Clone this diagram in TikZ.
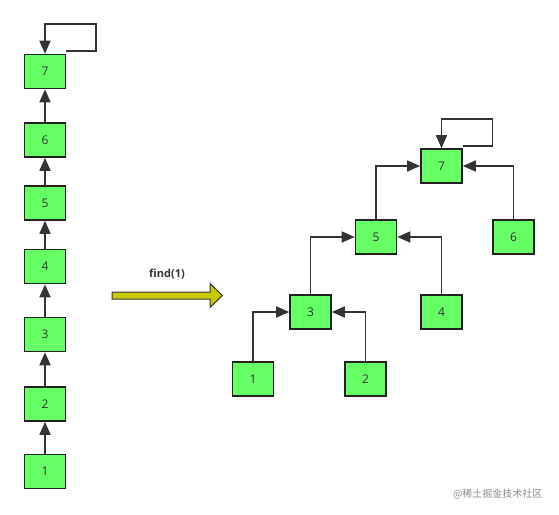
\documentclass[tikz,border=0pt]{standalone}
\usepackage{fontspec}
\setmainfont{Open Sans}
\newfontfamily\cjk{Noto Sans CJK SC}
\usetikzlibrary{arrows.meta}
\definecolor{boxfill}{HTML}{66FF66}
\definecolor{boxline}{HTML}{222222}
\definecolor{conn}{HTML}{333333}
\definecolor{bigarrow}{HTML}{C8C800}
\begin{document}
\begin{tikzpicture}[x=1pt,y=-1pt,
  ubox/.style={draw=boxline,line width=1.6pt,fill=boxfill,minimum width=41pt,minimum height=34pt,inner sep=0pt,font=\fontsize{12}{14}\selectfont,text=conn},
  link/.style={draw=conn,line width=1.6pt,-{Triangle[length=13pt,width=11pt]}}]
\useasboundingbox (0,0) rectangle (559,514);
% left chain
\node[ubox] (l7) at (45,71.5) {7};
\node[ubox] (l6) at (45,140) {6};
\node[ubox] (l5) at (45,203) {5};
\node[ubox] (l4) at (45,266.5) {4};
\node[ubox] (l3) at (45,334.5) {3};
\node[ubox] (l2) at (45,404) {2};
\node[ubox] (l1) at (45,471.5) {1};
\draw[link] (l1) -- (l2);
\draw[link] (l2) -- (l3);
\draw[link] (l3) -- (l4);
\draw[link] (l4) -- (l5);
\draw[link] (l5) -- (l6);
\draw[link] (l6) -- (l7);
\draw[link] ([yshift=3pt]l7.north east) -| (96,24) -| (l7.north);
% big arrow
\draw[draw=black!80,line width=1pt,fill=bigarrow,line join=miter]
  (112,292) -- (210,292) -- (210,283.5) -- (222.5,295.5) -- (210,307.5) -- (210,299) -- (112,299) -- cycle;
\node[font=\fontsize{11}{13}\selectfont\bfseries,text=conn] (ft) at (167,274) {find(1)};
% tree
\node[ubox] (t7) at (441.5,166) {7};
\node[ubox] (t5) at (376,237) {5};
\node[ubox] (t6) at (513.5,237) {6};
\node[ubox] (t3) at (310.5,312) {3};
\node[ubox] (t4) at (441.5,312) {4};
\node[ubox] (t1) at (253,379) {1};
\node[ubox] (t2) at (365.5,379) {2};
\draw[link] (t1) |- (t3);
\draw[link] (t2) |- (t3);
\draw[link] (t3) |- (t5);
\draw[link] (t4) |- (t5);
\draw[link] (t5) |- (t7);
\draw[link] (t6) |- (t7);
\draw[link] ([yshift=2pt]t7.north east) -| (492.5,119) -| (t7.north);
% watermark
\node[font=\cjk\fontsize{10}{12}\selectfont,text=black!45,anchor=east] (wm) at (546,494) {@稀土掘金技术社区};
\end{tikzpicture}
\end{document}
